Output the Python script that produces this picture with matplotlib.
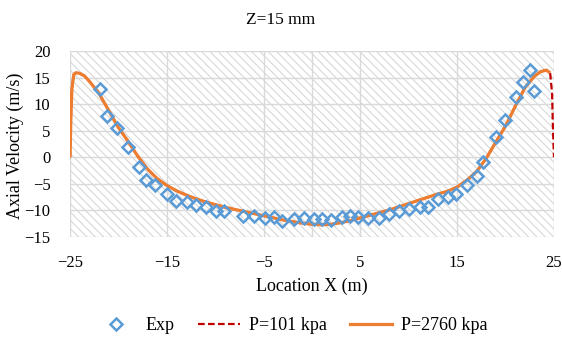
import matplotlib
matplotlib.use("Agg")
import matplotlib.pyplot as plt
from matplotlib.patches import Rectangle
from matplotlib.lines import Line2D

plt.rcParams['font.family'] = ['Liberation Serif', 'DejaVu Serif']
plt.rcParams['hatch.linewidth'] = 0.7
plt.rcParams['hatch.color'] = '#D3D3D3'

# Experimental data
exp_x = [-21.9, -21.2, -20.1, -19.0, -17.9, -17.1, -16.2, -15.0, -14.0, -12.9,
         -12.0, -11.0, -9.9, -9.1, -7.1, -6.0, -4.9, -3.9, -3.1, -1.9,
         -0.8, 0.2, 1.0, 2.0, 3.1, 3.9, 4.8, 5.8, 6.9, 8.0,
         9.0, 10.0, 11.2, 12.0, 13.0, 14.0, 14.9, 16.0, 17.0, 17.7,
         19.0, 19.9, 21.1, 21.8, 22.5, 22.9]
exp_v = [12.8, 7.8, 5.5, 2.0, -1.8, -4.3, -5.3, -7.0, -8.3, -8.4,
         -9.0, -9.4, -10.2, -10.1, -11.1, -11.1, -11.5, -11.3, -11.9, -11.7,
         -11.5, -11.7, -11.7, -11.8, -11.3, -11.0, -11.3, -11.5, -11.5, -10.7,
         -10.1, -9.8, -9.4, -9.3, -7.9, -7.4, -6.9, -5.2, -3.5, -0.8,
         3.9, 7.0, 11.4, 14.2, 16.5, 12.5]

# Simulation P=2760 kpa
sim_x = [-25.0, -24.9, -24.8, -24.6, -24.4, -24.0, -23.5, -23.0, -22.0, -21.0,
         -20.0, -19.0, -18.0, -17.0, -16.0, -15.0, -14.0, -13.0, -12.0, -11.0,
         -10.0, -9.0, -8.0, -7.0, -6.0, -5.0, -4.0, -3.0, -2.0, -1.0,
         0.0, 1.0, 2.0, 3.0, 4.0, 5.0, 6.0, 7.0, 8.0, 9.0,
         10.0, 11.0, 12.0, 13.0, 14.0, 15.0, 16.0, 17.0, 18.0, 19.0,
         20.0, 21.0, 22.0, 23.0, 23.6, 24.2, 24.6]
v_2760 = [0.0, 8.0, 13.0, 15.6, 15.9, 15.8, 15.3, 14.3, 12.0, 8.8,
          5.6, 3.0, 0.2, -2.2, -4.0, -5.3, -6.3, -7.1, -7.8, -8.4,
          -8.9, -9.4, -9.8, -10.2, -10.6, -11.0, -11.4, -11.8, -12.1, -12.4,
          -12.6, -12.7, -12.6, -12.3, -11.9, -11.4, -10.9, -10.4, -9.9, -9.3,
          -8.7, -8.1, -7.5, -6.9, -6.4, -5.6, -4.3, -2.7, -0.2, 2.9,
          5.9, 9.6, 13.1, 15.3, 16.1, 16.4, 15.9]

# Simulation P=101 kpa
sim101_x = sim_x + [24.8, 24.9, 25.0]
v_101 = v_2760 + [12.0, 5.0, 0.0]

xticks = [-25, -15, -5, 5, 15, 25]
yticks = [-15, -10, -5, 0, 5, 10, 15, 20]

fig = plt.figure(figsize=(5.62, 3.43), dpi=100)
ax = fig.add_axes([70/562, 1-237/343, (554-70)/562, (237-51)/343])
ax.set_xlim(-25, 25)
ax.set_ylim(-15, 20)

bg = Rectangle((0, 0), 1, 1, transform=ax.transAxes, facecolor='white',
               edgecolor='#D3D3D3', hatch='\\\\\\\\', linewidth=0, zorder=0)
ax.add_patch(bg)

for s in ax.spines.values():
    s.set_visible(False)
ax.set_xticks(xticks)
ax.set_yticks(yticks)
ax.grid(True, color='#D9D9D9', linewidth=1.0, zorder=1)
ax.axvline(0, color='#D9D9D9', linewidth=1.0, zorder=1)
ax.tick_params(length=0, labelsize=12, colors='black')
ax.tick_params(axis='x', pad=13)
ax.tick_params(axis='y', pad=14)

ax.plot(sim101_x, v_101, color='#C00000', linewidth=1.6, linestyle=(0, (3, 1.5)),
        zorder=3, label='P=101 kpa')
ax.plot(sim_x, v_2760, color='#ED7D31', linewidth=2.3, zorder=4,
        label='P=2760 kpa', solid_capstyle='butt')
ax.plot(exp_x, exp_v, linestyle='none', marker='D', markersize=6,
        markerfacecolor='none', markeredgecolor='#5B9BD5', markeredgewidth=1.8,
        zorder=5, label='Exp')

ax.set_xlabel('Location X (m)', fontsize=13, labelpad=5)
ax.set_ylabel('Axial Velocity (m/s)', fontsize=13, va='center')
ax.yaxis.set_label_coords(-0.112, 0.49)
fig.text(0.5, 1-20/343, 'Z=15 mm', ha='center', va='center', fontsize=12.5)

handles = [
    Line2D([], [], linestyle='none', marker='D', markersize=6,
           markerfacecolor='none', markeredgecolor='#5B9BD5', markeredgewidth=1.8),
    Line2D([], [], color='#C00000', linewidth=1.6, linestyle=(0, (3, 1.5))),
    Line2D([], [], color='#ED7D31', linewidth=2.3),
]
fig.legend(handles, ['Exp', 'P=101 kpa', 'P=2760 kpa'], loc='center',
           bbox_to_anchor=(0.518, 1-326/343), ncol=3, frameon=False,
           fontsize=13, handlelength=2.3, columnspacing=1.3, handletextpad=0.5)

fig.savefig('out.png', dpi=100)
